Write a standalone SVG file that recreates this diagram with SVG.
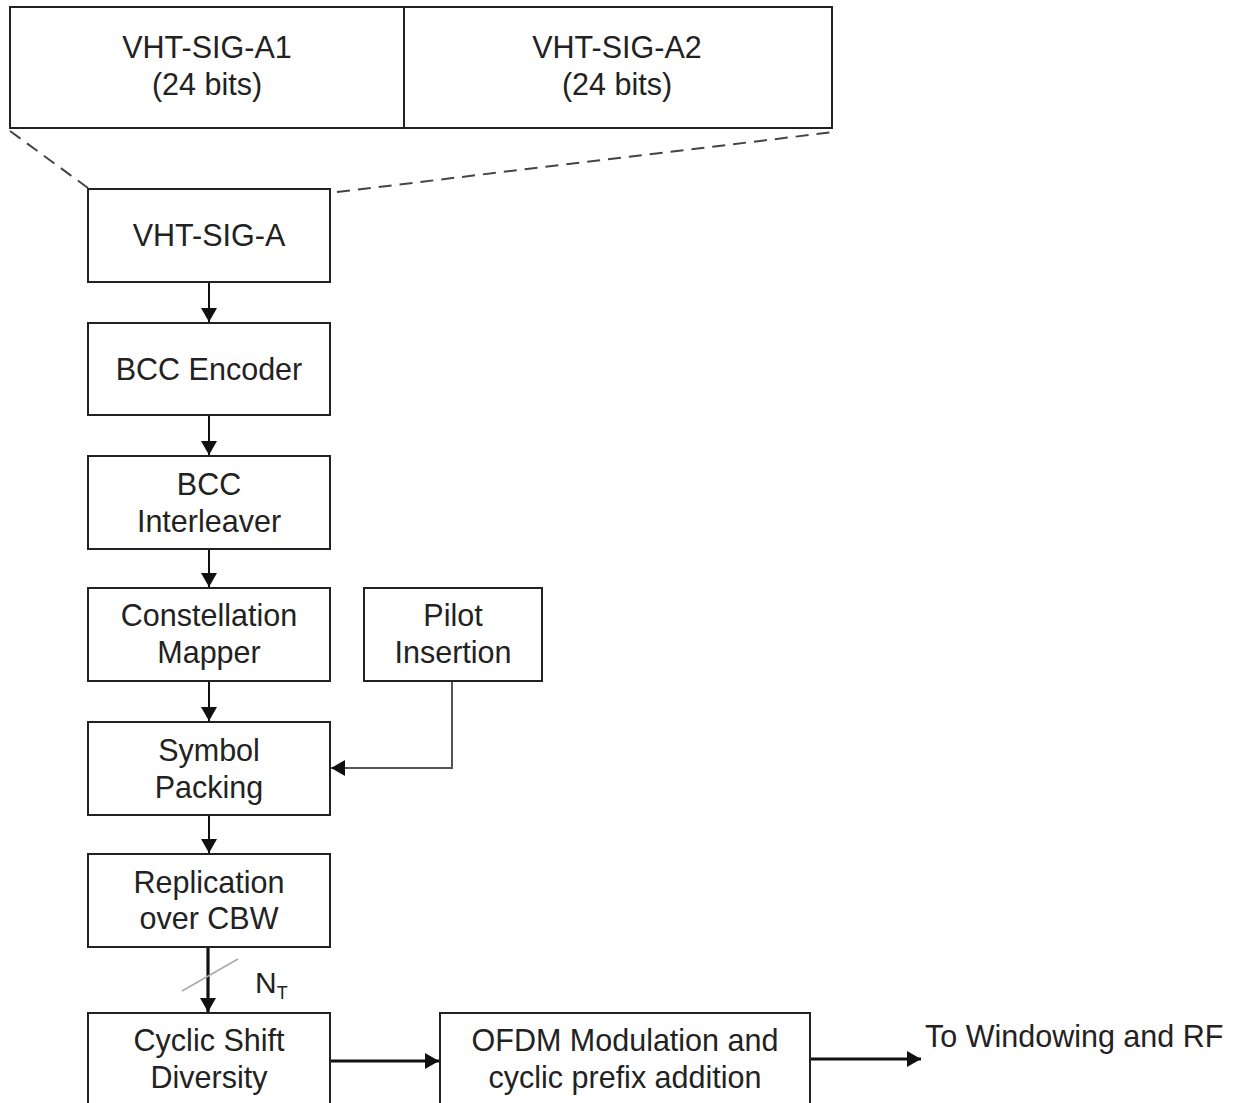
<svg xmlns="http://www.w3.org/2000/svg" width="1233" height="1103" viewBox="0 0 1233 1103">
<defs>
<style>
.box{fill:#fff;stroke:#222;stroke-width:2}
.t{font-family:"Liberation Sans",Arial,sans-serif;font-size:30.5px;fill:#222;text-anchor:middle}
.c{stroke:#111;stroke-width:2;fill:none}
.ct{stroke:#111;stroke-width:3.2;fill:none}
.d{stroke:#444;stroke-width:2;stroke-dasharray:13,8;fill:none}
</style>
<marker id="ah" viewBox="0 0 14 16" refX="14" refY="8" markerWidth="14" markerHeight="16" markerUnits="userSpaceOnUse" orient="auto"><path d="M0,0 L14,8 L0,16 Z" fill="#111"/></marker>
</defs>
<rect width="1233" height="1103" fill="#fff"/>
<g id="fields">
<rect class="box" x="10" y="7" width="822" height="121"/>
<line x1="404" y1="7" x2="404" y2="128" stroke="#222" stroke-width="2"/>
<text class="t" x="207" y="58">VHT-SIG-A1</text>
<text class="t" x="207" y="95">(24 bits)</text>
<text class="t" x="617" y="58">VHT-SIG-A2</text>
<text class="t" x="617" y="95">(24 bits)</text>
</g>
<g id="connectors">
<line class="d" x1="10" y1="131" x2="88" y2="188"/>
<line class="d" x1="337" y1="192" x2="834" y2="132"/>
<line class="c" x1="209" y1="282" x2="209" y2="322" marker-end="url(#ah)"/>
<line class="c" x1="209" y1="415" x2="209" y2="455" marker-end="url(#ah)"/>
<line class="c" x1="209" y1="549" x2="209" y2="587" marker-end="url(#ah)"/>
<line class="c" x1="209" y1="681" x2="209" y2="721" marker-end="url(#ah)"/>
<polyline points="452,681 452,768 331,768" stroke="#555" stroke-width="2" fill="none" marker-end="url(#ah)"/>
<line class="c" x1="209" y1="815" x2="209" y2="853" marker-end="url(#ah)"/>
<line class="ct" x1="208" y1="947" x2="208" y2="1012" marker-end="url(#ah)"/>
<line x1="182" y1="991" x2="238" y2="959" stroke="#aaa" stroke-width="1.5"/>
<line class="ct" x1="330" y1="1061" x2="439" y2="1061" marker-end="url(#ah)"/>
<line class="ct" x1="810" y1="1059" x2="921" y2="1059" marker-end="url(#ah)"/>
</g>
<g id="vhtsiga"><rect class="box" x="88" y="189" width="242" height="93"/><text class="t" x="209" y="246">VHT-SIG-A</text></g>
<g id="bccenc"><rect class="box" x="88" y="323" width="242" height="92"/><text class="t" x="209" y="380">BCC Encoder</text></g>
<g id="bccint"><rect class="box" x="88" y="456" width="242" height="93"/><text class="t" x="209" y="495">BCC</text><text class="t" x="209" y="532">Interleaver</text></g>
<g id="mapper"><rect class="box" x="88" y="588" width="242" height="93"/><text class="t" x="209" y="626">Constellation</text><text class="t" x="209" y="663">Mapper</text></g>
<g id="pilot"><rect class="box" x="364" y="588" width="178" height="93"/><text class="t" x="453" y="626">Pilot</text><text class="t" x="453" y="663">Insertion</text></g>
<g id="packing"><rect class="box" x="88" y="722" width="242" height="93"/><text class="t" x="209" y="761">Symbol</text><text class="t" x="209" y="798">Packing</text></g>
<g id="replication"><rect class="box" x="88" y="854" width="242" height="93"/><text class="t" x="209" y="893">Replication</text><text class="t" x="209" y="929">over CBW</text></g>
<g id="nt"><text x="255" y="993" font-family="Liberation Sans,Arial,sans-serif" font-size="30" fill="#222">N<tspan font-size="18" dy="6">T</tspan></text></g>
<g id="csd"><rect class="box" x="88" y="1013" width="242" height="100"/><text class="t" x="209" y="1051">Cyclic Shift</text><text class="t" x="209" y="1088">Diversity</text></g>
<g id="ofdm"><rect class="box" x="440" y="1013" width="370" height="100"/><text class="t" x="625" y="1051">OFDM Modulation and</text><text class="t" x="625" y="1088">cyclic prefix addition</text></g>
<g id="out"><text x="925" y="1047" font-family="Liberation Sans,Arial,sans-serif" font-size="30.5" fill="#222">To Windowing and RF</text></g>
</svg>
